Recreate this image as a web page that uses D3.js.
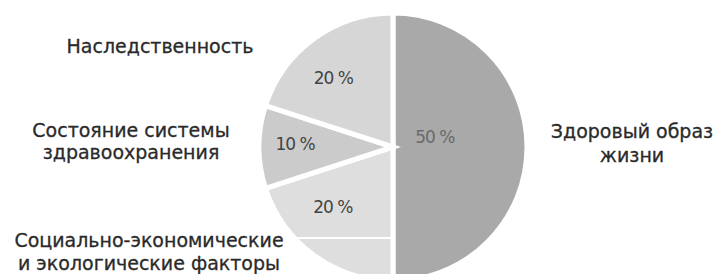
<!DOCTYPE html>
<html lang="ru">
<head>
    <meta charset="UTF-8">
    <title>Факторы здоровья</title>
    <style>
        body { margin: 0; background: #fff; }
        svg { display: block; }
        text { font-family: "DejaVu Sans", Verdana, sans-serif; }
    </style>
    <script src="https://d3js.org/d3.v7.min.js"></script>
</head>
<body>
    <div id="chart"></div>
    <script>
        const width = 718, height = 274
        const cx = 393, cy = 147, radius = 134

        // доли факторов, по часовой стрелке от верха
        const names = ["Здоровый образ жизни", "Социально-экономические и экологические факторы", "Состояние системы здравоохранения", "Наследственность"]
        const values = [50, 20, 10, 20]
        const fills = ["#a9a9a9", "#dedede", "#cbcbcb", "#d6d6d6"]
        const pctColors = ["#6a6a6a", "#444", "#444", "#444"]

        // подписи категорий: строки и положение
        const labels = [
            { lines: ["Здоровый образ", "жизни"], x: 632, y: 138, lh: 24 },
            { lines: ["Социально-экономические", "и экологические факторы"], x: 149, y: 247, lh: 23 },
            { lines: ["Состояние системы", "здравоохранения"], x: 131, y: 137, lh: 22 },
            { lines: ["Наследственность"], x: 160, y: 53, lh: 0 }
        ]
        // положение процентов: угол (град.) и расстояние от центра
        const pctAngle = [77, 225, 272, 319]
        const pctDist = [43, 85, 98, 91]

        const data = names.map((n, i) => ({ name: n, value: values[i] }))

        const svg = d3.select("#chart").append("svg").attr("width", width).attr("height", height)
        const g = svg.append("g").attr("transform", `translate(${cx}, ${cy})`)

        const pie = d3.pie().value(d => d.value).sort(null)
        const arc = d3.arc().innerRadius(0).outerRadius(radius)
        const arcs = pie(data)

        g.selectAll("path.slice").data(arcs).enter().append("path")
            .attr("class", "slice")
            .attr("d", arc)
            .attr("fill", (d, i) => fills[i])
            .attr("stroke", "#fff")
            .attr("stroke-width", 5)
            .attr("stroke-linejoin", "miter")

        // белая полоса поперёк нижнего сектора, как на оригинале
        const ly = 238 - cy
        g.append("line")
            .attr("x1", -Math.sqrt(radius * radius - ly * ly)).attr("x2", 0)
            .attr("y1", ly).attr("y2", ly)
            .attr("stroke", "#fff").attr("stroke-width", 2)

        g.selectAll("text.pct").data(arcs).enter().append("text")
            .attr("class", "pct")
            .attr("transform", (d, i) => {
                const a = pctAngle[i] * Math.PI / 180
                const r = pctDist[i]
                return `translate(${Math.sin(a) * r}, ${-Math.cos(a) * r})`
            })
            .attr("dy", "0.35em")
            .attr("text-anchor", "middle")
            .attr("font-size", 17)
            .attr("fill", (d, i) => pctColors[i])
            .attr("letter-spacing", -1)
            .text(d => d.data.value + " %")

        labels.forEach(l => {
            const t = svg.append("text")
                .attr("x", l.x).attr("y", l.y)
                .attr("text-anchor", "middle")
                .attr("font-size", 19)
                .attr("fill", "#2a2a2a")
                .attr("stroke", "#2a2a2a")
                .attr("stroke-width", 0.3)
            l.lines.forEach((s, j) => {
                t.append("tspan").attr("x", l.x).attr("dy", j ? l.lh : 0).text(s)
            })
        })
    </script>
</body>
</html>
